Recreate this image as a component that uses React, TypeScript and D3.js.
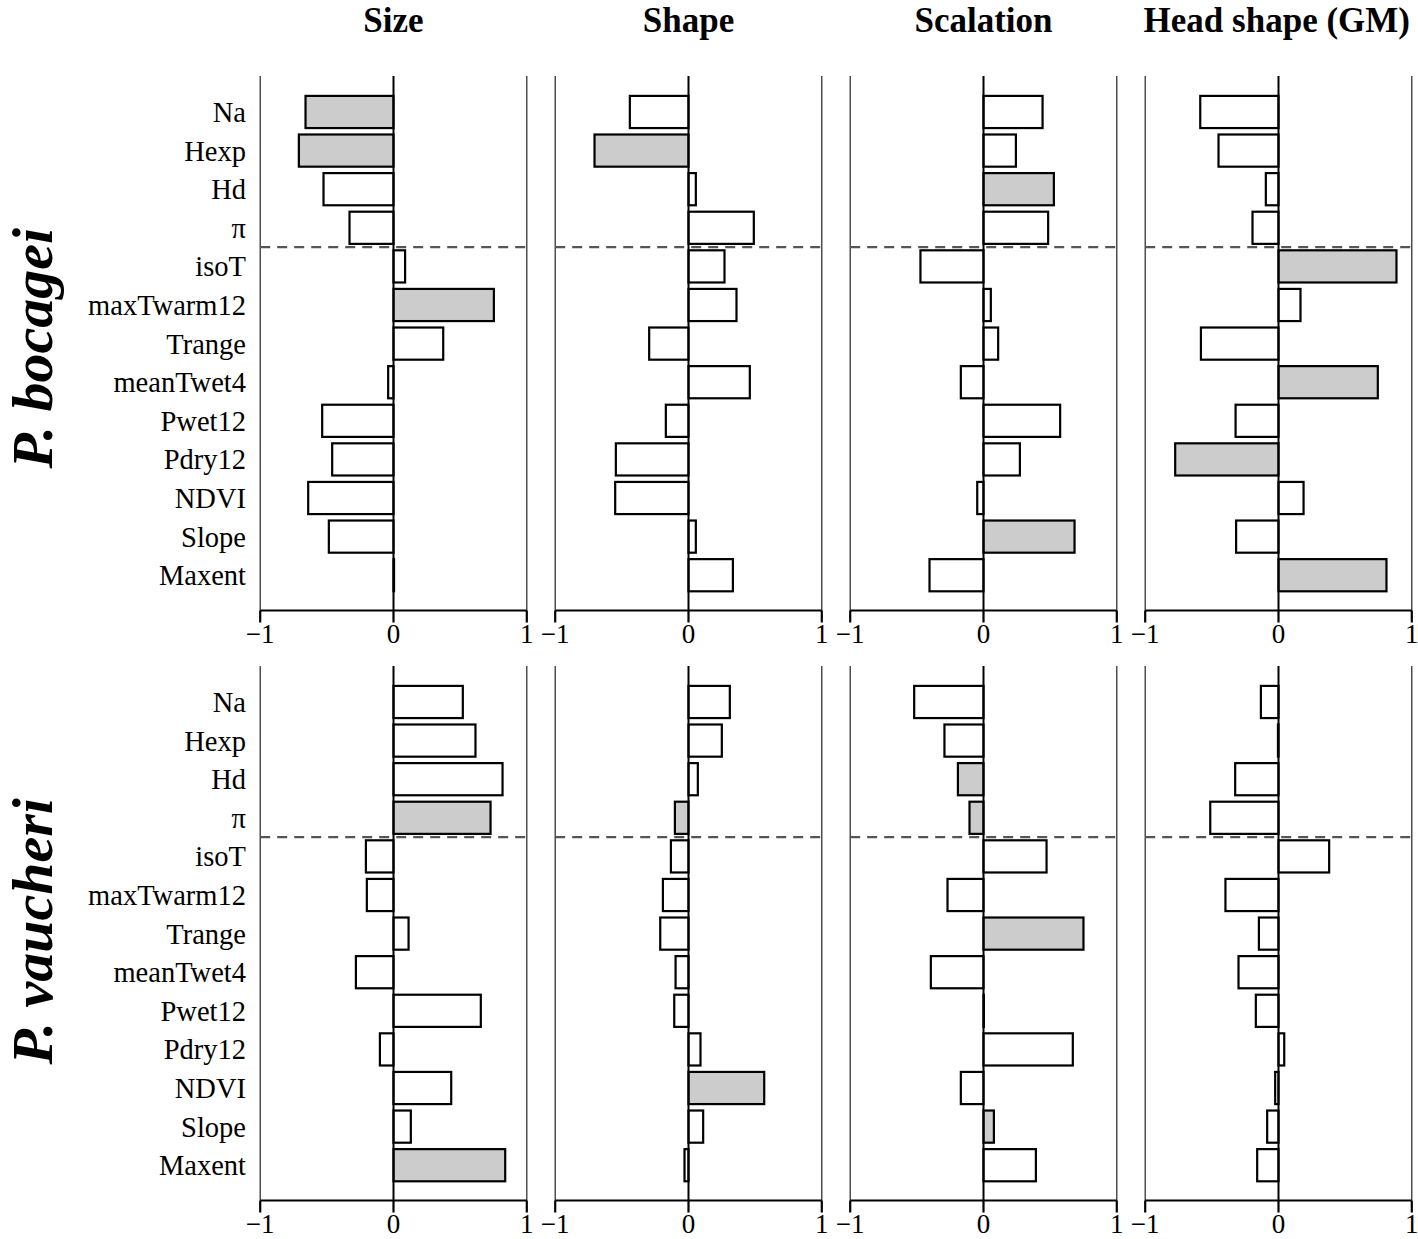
import React from "react";
import * as d3 from "d3";

const variables = ["Na", "Hexp", "Hd", "π", "isoT", "maxTwarm12", "Trange", "meanTwet4", "Pwet12", "Pdry12", "NDVI", "Slope", "Maxent"];
const traits = ["Size", "Shape", "Scalation", "Head shape (GM)"];
const species = ["P. bocagei", "P. vaucheri"];
const tickValues = [-1, 0, 1];
const geneticCount = 4;

// P. bocagei
const bocSize = [-0.66, -0.71, -0.525, -0.33, 0.087, 0.753, 0.373, -0.04, -0.535, -0.46, -0.64, -0.485, 0.004];
const bocShape = [-0.44, -0.705, 0.055, 0.49, 0.27, 0.36, -0.295, 0.46, -0.17, -0.545, -0.55, 0.055, 0.333];
const bocScal = [0.443, 0.243, 0.528, 0.485, -0.473, 0.055, 0.11, -0.17, 0.575, 0.273, -0.047, 0.683, -0.405];
const bocHead = [-0.587, -0.45, -0.095, -0.195, 0.885, 0.165, -0.582, 0.745, -0.322, -0.775, 0.188, -0.318, 0.81];
// P. vaucheri
const vauSize = [0.52, 0.615, 0.818, 0.728, -0.207, -0.2, 0.113, -0.282, 0.655, -0.102, 0.433, 0.13, 0.838];
const vauShape = [0.31, 0.25, 0.07, -0.102, -0.132, -0.192, -0.212, -0.097, -0.107, 0.09, 0.568, 0.11, -0.03];
const vauScal = [-0.52, -0.293, -0.192, -0.105, 0.473, -0.27, 0.75, -0.395, 0.003, 0.67, -0.17, 0.078, 0.393];
const vauHead = [-0.132, -0.004, -0.325, -0.512, 0.38, -0.398, -0.147, -0.3, -0.17, 0.043, -0.025, -0.085, -0.16];

// significance (grey bars)
const bocSizeSig = ["Na", "Hexp", "maxTwarm12"];
const bocShapeSig = ["Hexp"];
const bocScalSig = ["Hd", "Slope"];
const bocHeadSig = ["isoT", "meanTwet4", "Pdry12", "Maxent"];
const vauSizeSig = ["π", "Maxent"];
const vauShapeSig = ["π", "NDVI"];
const vauScalSig = ["Hd", "π", "Trange", "Slope"];
const vauHeadSig: string[] = [];

const rows = [
  { values: [bocSize, bocShape, bocScal, bocHead], sig: [bocSizeSig, bocShapeSig, bocScalSig, bocHeadSig] },
  { values: [vauSize, vauShape, vauScal, vauHead], sig: [vauSizeSig, vauShapeSig, vauScalSig, vauHeadSig] },
];

const W = 1418;
const H = 1239;
const FONT = "'Liberation Serif', 'Times New Roman', serif";

export default function App() {
  const rowOffset = 590;
  const panelZero0 = 393.5;
  const panelStep = 295;
  const halfWidth = 133.3;

  return (
    <svg width={W} height={H} style={{ position: "absolute", left: 0, top: 0, background: "#fff" }} fontFamily={FONT}>
      {traits.map((t, j) => {
        const last = j === traits.length - 1;
        return (
          <text
            key={t}
            x={last ? W - 8 : panelZero0 + panelStep * j}
            y={32}
            textAnchor={last ? "end" : "middle"}
            fontWeight="bold"
            fontSize={35}
          >
            {t}
          </text>
        );
      })}
      {rows.map((row, r) => {
        const oy = r * rowOffset;
        const y = d3.scaleBand<string>().domain(variables).range([95.9 + oy, 591.3 + oy]).paddingInner(0.1667).paddingOuter(0);
        const lineTop = 76 + oy;
        const axisY = 610.5 + oy;
        const dashY = ((y(variables[geneticCount - 1]) as number) + y.bandwidth() + (y(variables[geneticCount]) as number)) / 2;
        const midY = (lineTop + axisY) / 2 + (r === 0 ? 5 : -2);
        return (
          <g key={r}>
            <text
              transform={`translate(52,${midY}) rotate(-90)`}
              textAnchor="middle"
              fontWeight="bold"
              fontStyle="italic"
              fontSize={58}
            >
              {species[r]}
            </text>
            {variables.map((v) => (
              <text key={v} x={246} y={(y(v) as number) + y.bandwidth() / 2} dy="0.35em" textAnchor="end" fontSize={28.5}>
                {v}
              </text>
            ))}
            {row.values.map((vals, j) => {
              const z = panelZero0 + panelStep * j;
              const x = d3.scaleLinear().domain([-1, 1]).range([z - halfWidth, z + halfWidth]);
              const sig = row.sig[j];
              return (
                <g key={j}>
                  <line x1={x(-1)} x2={x(-1)} y1={lineTop} y2={axisY} stroke="#222" strokeWidth={1.2} />
                  <line x1={x(1)} x2={x(1)} y1={lineTop} y2={axisY} stroke="#222" strokeWidth={1.2} />
                  <line x1={x(-1)} x2={x(1)} y1={dashY} y2={dashY} stroke="#555" strokeWidth={2.2} strokeDasharray="10,7" />
                  {vals.map((val, i) => {
                    const v = variables[i];
                    const x0 = Math.min(x(0), x(val));
                    const w = Math.abs(x(val) - x(0));
                    return (
                      <rect
                        key={v}
                        x={x0}
                        y={y(v) as number}
                        width={w}
                        height={y.bandwidth()}
                        fill={sig.includes(v) ? "#cccccc" : "#ffffff"}
                        stroke="#000"
                        strokeWidth={2.2}
                      />
                    );
                  })}
                  <line x1={x(0)} x2={x(0)} y1={lineTop} y2={axisY} stroke="#000" strokeWidth={2} />
                  <line x1={x(-1)} x2={x(1)} y1={axisY} y2={axisY} stroke="#000" strokeWidth={2.2} />
                  {tickValues.map((tv) => (
                    <g key={tv}>
                      <line x1={x(tv)} x2={x(tv)} y1={axisY} y2={axisY + 12} stroke="#000" strokeWidth={2.2} />
                      <text x={x(tv)} y={axisY + 32} textAnchor="middle" fontSize={27}>
                        {tv < 0 ? `\u2212${Math.abs(tv)}` : `${tv}`}
                      </text>
                    </g>
                  ))}
                </g>
              );
            })}
          </g>
        );
      })}
    </svg>
  );
}
